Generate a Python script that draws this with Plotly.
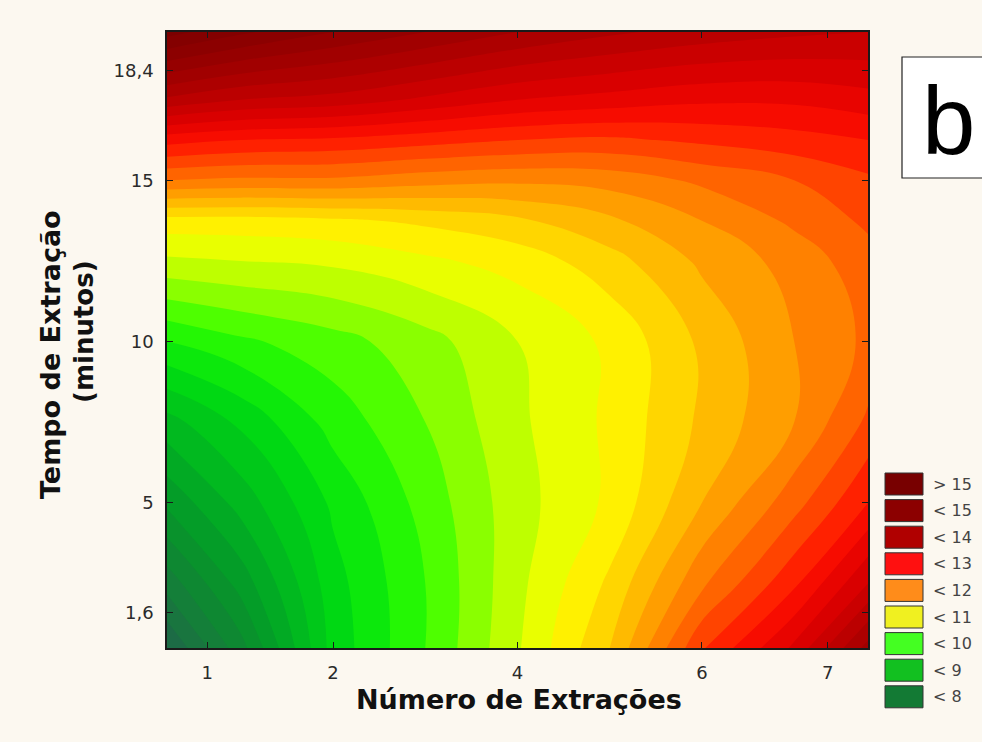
import plotly.graph_objects as go

# ---------------- data ----------------
# x axis: coded levels of "Número de Extrações"; y axis: minutes
x_coded = [-1.9, -1.5, -1.0, -0.5, 0.0, 0.5, 1.0, 1.5, 1.9]
t_min = [0.5, 2.5, 5.0, 7.5, 10.0, 12.5, 13.75, 15.0, 16.25, 17.5, 19.6]

z_rows = [
    [7.0, 7.9, 9.35, 10.0, 10.72, 11.5, 12.72, 13.55, 14.6],   # t=0.5
    [7.6, 8.35, 9.4, 10.0, 10.68, 11.3, 12.2, 12.95, 13.75],   # t=2.5
    [8.3, 8.85, 9.55, 10.1, 10.65, 11.05, 11.75, 12.4, 13.0],  # t=5
    [8.9, 9.3, 9.85, 10.25, 10.7, 11.05, 11.55, 12.0, 12.55],  # t=7.5
    [9.75, 9.95, 10.15, 10.4, 10.75, 11.05, 11.55, 12.0, 12.3],  # t=10
    [10.7, 10.75, 10.8, 10.95, 11.1, 11.4, 11.8, 12.1, 12.4],  # t=12.5
    [11.15, 11.15, 11.2, 11.3, 11.45, 11.7, 12.0, 12.3, 12.55],  # t=13.75
    [12.25, 12.2, 12.2, 12.1, 12.05, 12.1, 12.3, 12.5, 12.7],  # t=15
    [13.1, 13.0, 12.95, 12.85, 12.75, 12.7, 12.8, 12.9, 13.0],  # t=16.25
    [14.2, 14.0, 13.9, 13.7, 13.5, 13.4, 13.3, 13.3, 13.4],    # t=17.5
    [15.6, 15.3, 15.0, 14.75, 14.5, 14.3, 14.15, 14.05, 14.0],  # t=19.6
]

x_tick_vals = [-1.682, -1.0, 0.0, 1.0, 1.682]
x_tick_text = ["1", "2", "4", "6", "7"]
y_tick_vals = [1.6, 5, 10, 15, 18.4]
y_tick_text = ["1,6", "5", "10", "15", "18,4"]

legend_labels = ["> 15", "< 15", "< 14", "< 13", "< 12", "< 11", "< 10", "< 9", "< 8"]
legend_colors = ["#780000", "#8c0000", "#b00000", "#ff1010", "#ff8c1a",
                 "#f0f020", "#44ff22", "#12c020", "#137a34"]

# ---------------- style ----------------
ZMIN, ZMAX = 7.0, 16.0
stops = [(7.0, '#1e6648'), (7.5, '#177a3c'), (8.0, '#0b8c2e'), (8.5, '#02a226'),
         (9.0, '#00c01c'), (9.5, '#00e010'), (10.0, '#30ff00'), (10.5, '#a8ff00'),
         (11.0, '#ffff00'), (11.5, '#ffc800'), (12.0, '#ff9000'), (12.5, '#ff5500'),
         (13.0, '#ff1000'), (13.5, '#e00000'), (14.0, '#c20000'), (14.5, '#a60000'),
         (15.0, '#900000'), (16.0, '#700000')]
colorscale = [[(v - ZMIN) / (ZMAX - ZMIN), c] for v, c in stops]

W, H = 982, 742
L, R, T, B = 167, 868, 32, 648  # plot area in pixels


def px(xp):
    return (xp - L) / (R - L)


def py(yp):
    return (B - yp) / (B - T)


fig = go.Figure(go.Contour(
    x=x_coded, y=t_min, z=z_rows,
    zmin=ZMIN, zmax=ZMAX, colorscale=colorscale,
    contours=dict(start=7.0, end=16.0, size=0.25, coloring='fill', showlines=False),
    line=dict(width=0, smoothing=1.2),
    showscale=False, hoverinfo='skip',
))

bg = '#fcf8f0'
axis_common = dict(showline=True, linecolor='#1a1a1a', linewidth=1.5, mirror='ticks',
                   ticks='inside', ticklen=6, tickcolor='#1a1a1a', showgrid=False,
                   zeroline=False, tickfont=dict(family='DejaVu Sans', size=18, color='#2a2a2a'))

fig.update_layout(
    width=W, height=H,
    margin=dict(l=L, r=W - R, t=T, b=H - B, pad=0),
    paper_bgcolor=bg, plot_bgcolor=bg,
    xaxis=dict(range=[-1.9, 1.9], tickvals=x_tick_vals, ticktext=x_tick_text,
               ticklabelstandoff=8, **axis_common),
    yaxis=dict(range=[0.5, 19.6], tickvals=y_tick_vals, ticktext=y_tick_text,
               ticklabelstandoff=8, **axis_common),
    showlegend=False,
)

shapes = []
annotations = []

# axis titles
annotations.append(dict(text="<b>Número de Extrações</b>", xref='paper', yref='paper',
                        x=px(519), y=py(699), xanchor='center', yanchor='middle',
                        showarrow=False, font=dict(family='DejaVu Sans', size=27, color='#111')))
annotations.append(dict(text="<b>Tempo de Extração</b>", xref='paper', yref='paper',
                        x=px(50), y=py(355), xanchor='center', yanchor='middle', textangle=-90,
                        showarrow=False, font=dict(family='DejaVu Sans', size=27, color='#111')))
annotations.append(dict(text="<b>(minutos)</b>", xref='paper', yref='paper',
                        x=px(84), y=py(332), xanchor='center', yanchor='middle', textangle=-90,
                        showarrow=False, font=dict(family='DejaVu Sans', size=26, color='#111')))

# panel label "b"
shapes.append(dict(type='rect', xref='paper', yref='paper', x0=px(902), x1=px(1020),
                   y0=py(178), y1=py(57), line=dict(color='#222', width=1.2), fillcolor='white',
                   layer='above'))
annotations.append(dict(text="b", xref='paper', yref='paper', x=px(948), y=py(120),
                        xanchor='center', yanchor='middle', showarrow=False,
                        font=dict(family='Liberation Sans', size=96, color='#000')))

# custom legend
for i, (lab, col) in enumerate(zip(legend_labels, legend_colors)):
    y0 = 473 + i * 26.6
    shapes.append(dict(type='rect', xref='paper', yref='paper', x0=px(885), x1=px(923),
                       y0=py(y0 + 22), y1=py(y0), line=dict(color='#333', width=1),
                       fillcolor=col, layer='above'))
    annotations.append(dict(text=lab, xref='paper', yref='paper', x=px(931), y=py(y0 + 11),
                            xanchor='left', yanchor='middle', showarrow=False,
                            font=dict(family='DejaVu Sans', size=16, color='#444')))

fig.update_layout(shapes=shapes, annotations=annotations)
fig.write_html("out.html")
